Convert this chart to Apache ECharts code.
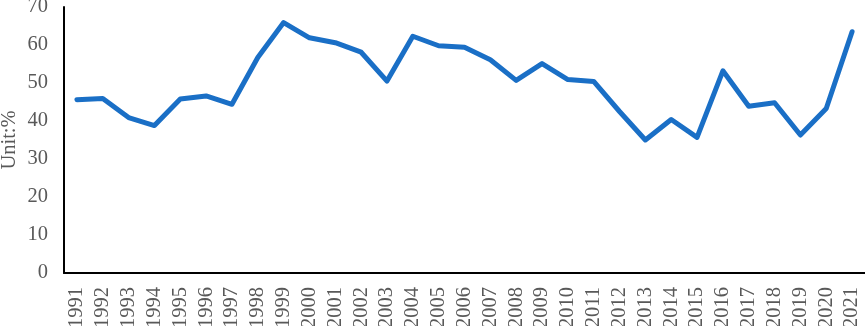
<!DOCTYPE html>
<html><head><meta charset="utf-8">
<script src="https://cdn.jsdelivr.net/npm/echarts@6/dist/echarts.min.js"></script>
<style>html,body{margin:0;padding:0;background:#fff}#c{width:865px;height:326px}</style>
</head><body><div id="c"></div>
<script>
const years = ['1991','1992','1993','1994','1995','1996','1997','1998','1999','2000','2001','2002','2003','2004','2005','2006','2007','2008','2009','2010','2011','2012','2013','2014','2015','2016','2017','2018','2019','2020','2021'];
const values = [45.6,45.9,40.9,38.8,45.8,46.6,44.4,56.7,65.9,61.9,60.6,58.1,50.5,62.3,59.8,59.4,56.1,50.7,55.1,50.9,50.4,42.5,35.0,40.4,35.7,53.2,43.9,44.8,36.3,43.3,63.5];
const yTicks = {min:0, max:70, interval:10};
const yName = 'Unit:%';
const font = '"Liberation Serif", "Times New Roman", serif';
const chart = echarts.init(document.getElementById('c'));
chart.setOption({
  animation:false,
  grid:{left:64, right:0, top:7, bottom:53, containLabel:false, outerBoundsMode:'none'},
  xAxis:{type:'category', data:years, boundaryGap:true,
    axisLine:{lineStyle:{color:'#000', width:2}},
    axisTick:{show:false},
    axisLabel:{rotate:90, color:'#595959', fontFamily:font, fontSize:20.5, margin:14, interval:0}},
  yAxis:{type:'value', min:yTicks.min, max:yTicks.max, interval:yTicks.interval,
    name:yName, nameLocation:'middle', nameGap:44, nameMoveOverlap:false,
    nameTextStyle:{color:'#595959', fontFamily:font, fontSize:20.5, verticalAlign:'bottom'},
    axisLine:{show:true, lineStyle:{color:'#000', width:2}},
    axisTick:{show:false}, splitLine:{show:false},
    axisLabel:{color:'#595959', fontFamily:font, fontSize:20.5, margin:16}},
  series:[{type:'line', data:values, showSymbol:false, symbol:'none',
    lineStyle:{color:'#1a6fc6', width:5, join:'round', cap:'round'}}]
});
</script></body></html>
